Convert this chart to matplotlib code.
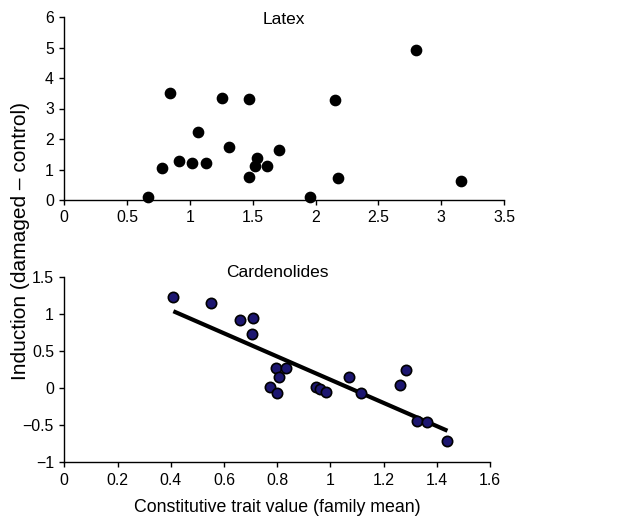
import matplotlib
matplotlib.use("Agg")
import matplotlib.pyplot as plt

plt.rcParams['font.family'] = ['Liberation Sans', 'DejaVu Sans']

# Latex panel data
latex_x = [0.67, 0.775, 0.84, 0.91, 1.016, 1.064, 1.125, 1.255, 1.31, 1.47,
           1.467, 1.52, 1.535, 1.61, 1.71, 1.955, 2.156, 2.18, 2.80, 3.16]
latex_y = [0.11, 1.04, 3.50, 1.29, 1.22, 2.22, 1.22, 3.36, 1.74, 3.30,
           0.77, 1.11, 1.39, 1.12, 1.63, 0.11, 3.29, 0.72, 4.92, 0.63]

# Cardenolides panel data
card_x = [0.409, 0.551, 0.66, 0.71, 0.707, 0.796, 0.833, 0.807, 0.775, 0.798,
          0.947, 0.961, 0.984, 1.071, 1.114, 1.262, 1.285, 1.325, 1.365, 1.438]
card_y = [1.225, 1.14, 0.915, 0.94, 0.727, 0.264, 0.27, 0.148, 0.02, -0.067,
          0.02, -0.01, -0.054, 0.148, -0.067, 0.035, 0.246, -0.44, -0.463, -0.718]

# Regression line endpoints
fit_x = [0.41, 1.44]
fit_y = [1.035, -0.575]

top_xticks = [0, 0.5, 1, 1.5, 2, 2.5, 3, 3.5]
top_xlabels = ["0", "0.5", "1", "1.5", "2", "2.5", "3", "3.5"]
top_yticks = [0, 1, 2, 3, 4, 5, 6]
top_ylabels = ["0", "1", "2", "3", "4", "5", "6"]
bot_xticks = [0, 0.2, 0.4, 0.6, 0.8, 1.0, 1.2, 1.4, 1.6]
bot_xlabels = ["0", "0.2", "0.4", "0.6", "0.8", "1", "1.2", "1.4", "1.6"]
bot_yticks = [-1, -0.5, 0, 0.5, 1, 1.5]
bot_ylabels = ["\u22121", "\u22120.5", "0", "0.5", "1", "1.5"]

W, H = 627, 521
fig = plt.figure(figsize=(W / 100, H / 100), dpi=100)

def px_axes(l, t, r, b):
    return fig.add_axes([l / W, 1 - b / H, (r - l) / W, (b - t) / H])

ax1 = px_axes(64.3, 17, 504, 200)
ax2 = px_axes(64.3, 276.7, 490, 462.3)

fs = 11.4
for ax in (ax1, ax2):
    ax.spines['top'].set_visible(False)
    ax.spines['right'].set_visible(False)
    ax.spines['left'].set_linewidth(1.0)
    ax.spines['bottom'].set_linewidth(1.0)
    ax.tick_params(direction='out', length=3.5, width=1.0, labelsize=fs, pad=4)

ax1.scatter(latex_x, latex_y, s=55, c='black', edgecolors='black', zorder=3,
            clip_on=False)
ax1.set_xlim(0, 3.5)
ax1.set_ylim(0, 6)
ax1.set_xticks(top_xticks)
ax1.set_xticklabels(top_xlabels)
ax1.set_yticks(top_yticks)
ax1.set_yticklabels(top_ylabels)
ax1.text(0.5, 0.985, "Latex", transform=ax1.transAxes, ha='center', va='center',
         fontsize=12.5)

ax2.plot(fit_x, fit_y, color='black', linewidth=3.0, solid_capstyle='butt', zorder=2)
ax2.scatter(card_x, card_y, s=55, c='#1c1670', edgecolors='black', linewidths=1.2,
            zorder=3, clip_on=False)
ax2.set_xlim(0, 1.6)
ax2.set_ylim(-1, 1.5)
ax2.set_xticks(bot_xticks)
ax2.set_xticklabels(bot_xlabels)
ax2.set_yticks(bot_yticks)
ax2.set_yticklabels(bot_ylabels)
ax2.text(0.5, 1.025, "Cardenolides", transform=ax2.transAxes, ha='center',
         va='center', fontsize=12.5)

fig.text(277 / W, 1 - 507 / H, "Constitutive trait value (family mean)",
         ha='center', va='center', fontsize=12.8)
fig.text(21 / W, 1 - 241 / H, "Induction (damaged \u2013 control)",
         ha='center', va='center', rotation=90, fontsize=15)

fig.savefig("out.png", dpi=100)
